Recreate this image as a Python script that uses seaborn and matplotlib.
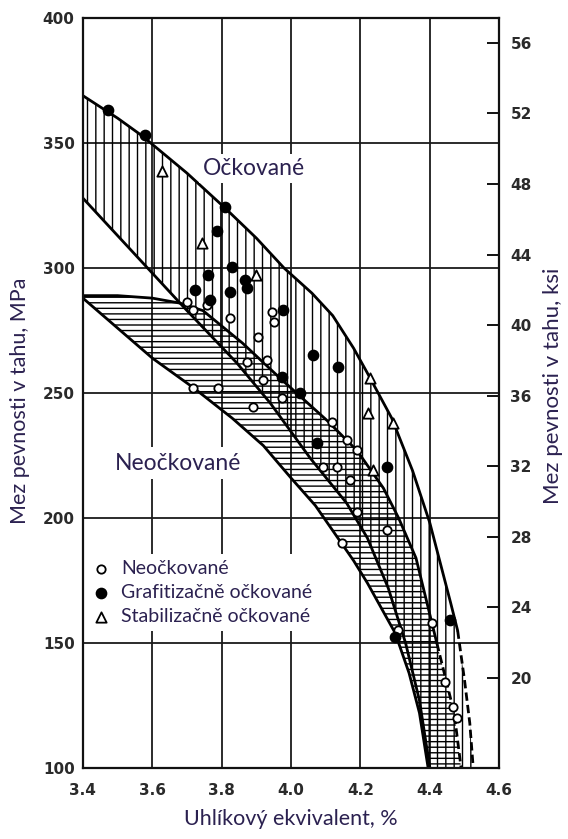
import matplotlib
matplotlib.use("Agg")
import matplotlib.pyplot as plt
import seaborn as sns
import numpy as np

# --- data (carbon equivalent %, tensile strength MPa) ---

# inoculated band (vertical hatch)
inoc_top_x = [3.40, 3.50, 3.57, 3.70, 3.81, 3.90, 3.98, 4.06, 4.12, 4.18, 4.22, 4.29, 4.35, 4.40, 4.43, 4.46, 4.48, 4.50, 4.515, 4.525]
inoc_top_y = [369, 360, 353, 338, 324, 312, 300, 290, 281, 268, 258, 240, 219, 198, 182, 166, 155, 135, 118, 100]
inoc_bot_x = [3.40, 3.50, 3.60, 3.70, 3.844, 3.94, 4.055, 4.16, 4.22, 4.28, 4.33, 4.37, 4.40]
inoc_bot_y = [328, 313, 298, 283, 262, 246, 224, 206, 192, 172, 150, 127, 100]

# uninoculated band (horizontal hatch)
plain_top_x = [3.40, 3.50, 3.60, 3.68, 3.746, 3.86, 3.968, 4.104, 4.19, 4.266, 4.31, 4.36, 4.42, 4.47, 4.49]
plain_top_y = [289, 289, 288, 286, 283, 270, 256, 239, 227, 212, 200, 184, 150, 122, 100]
plain_bot_x = [3.40, 3.50, 3.60, 3.72, 3.83, 3.92, 4.00, 4.07, 4.12, 4.18, 4.22, 4.26, 4.30, 4.34, 4.37, 4.395]
plain_bot_y = [288, 276, 264, 252, 240, 229, 216, 205, 195, 183, 174, 164, 154, 138, 122, 100]

# measured points
neo_x = [3.700, 3.717, 3.758, 3.824, 3.945, 3.951, 3.905, 3.873, 3.931, 3.919, 3.717, 3.789, 3.890, 3.974,
         4.118, 4.162, 4.190, 4.092, 4.133, 4.170, 4.190, 4.277, 4.147, 4.309, 4.407, 4.444, 4.467, 4.479]
neo_y = [286.4, 283.2, 285.2, 280.0, 282.4, 278.4, 272.4, 262.4, 263.2, 255.2, 252.0, 252.0, 244.4, 248.0,
         238.4, 231.2, 227.2, 220.4, 220.4, 215.2, 202.4, 195.2, 190.0, 155.2, 158.0, 134.4, 124.4, 120.0]
graf_x = [3.472, 3.579, 3.810, 3.787, 3.830, 3.761, 3.867, 3.824, 3.873, 3.723, 3.766, 3.977, 4.063, 4.136,
          3.974, 4.026, 4.075, 4.277, 4.459, 4.300]
graf_y = [363.2, 353.2, 324.4, 314.8, 300.4, 297.2, 295.2, 290.4, 292.0, 291.2, 287.2, 283.2, 265.2, 260.4,
          256.4, 250.0, 230.0, 220.4, 159.2, 152.4]
stab_x = [3.628, 3.743, 3.899, 4.228, 4.222, 4.294, 4.237]
stab_y = [338.8, 310.0, 297.2, 256.0, 242.0, 238.0, 219.2]

x_ticks = [3.4, 3.6, 3.8, 4.0, 4.2, 4.4, 4.6]
mpa_ticks = [100, 150, 200, 250, 300, 350, 400]
ksi_ticks = [20, 24, 28, 32, 36, 40, 44, 48, 52, 56]

label_color = "#2b2150"
txt_font = ["Lato", "DejaVu Sans"]
tick_font = ["Liberation Sans Narrow", "DejaVu Sans"]

sns.set_style("white")
plt.rcParams["font.family"] = txt_font
plt.rcParams["hatch.linewidth"] = 1.0

fig = plt.figure(figsize=(5.68, 8.39), dpi=100)
ax = fig.add_axes([0.146, 0.0846, 0.733, 0.8937])

# hatched bands, the overlap comes out cross-hatched
ax.fill(np.r_[inoc_top_x, inoc_bot_x[::-1]], np.r_[inoc_top_y, inoc_bot_y[::-1]],
        facecolor="none", edgecolor="black", hatch="||", linewidth=0, zorder=1)
ax.fill(np.r_[plain_top_x, plain_bot_x[::-1]], np.r_[plain_top_y, plain_bot_y[::-1]],
        facecolor="none", edgecolor="black", hatch="---", linewidth=0, zorder=1)

# band edges, dashed where the scan shows broken lines
for bx, by in [(inoc_top_x, inoc_top_y), (plain_top_x, plain_top_y)]:
    bx, by = np.array(bx), np.array(by)
    solid = by >= 150
    sns.lineplot(x=bx[solid], y=by[solid], sort=False, estimator=None, color="black", linewidth=2.0, ax=ax, zorder=2)
    dash = by <= 155
    sns.lineplot(x=bx[dash], y=by[dash], sort=False, estimator=None, color="black", linewidth=2.0,
                 linestyle=(0, (3, 1.5)), ax=ax, zorder=2)
for bx, by in [(inoc_bot_x, inoc_bot_y), (plain_bot_x, plain_bot_y)]:
    sns.lineplot(x=bx, y=by, sort=False, estimator=None, color="black", linewidth=2.0, ax=ax, zorder=2)

# points
sns.scatterplot(x=neo_x, y=neo_y, marker="o", s=36, color="white", edgecolor="black", linewidth=1.3,
                label="Neočkované", ax=ax, zorder=3)
sns.scatterplot(x=graf_x, y=graf_y, marker="o", s=55, color="black", edgecolor="black", linewidth=1.0,
                label="Grafitizačně očkované", ax=ax, zorder=3)
sns.scatterplot(x=stab_x, y=stab_y, marker="^", s=55, color="white", edgecolor="black", linewidth=1.3,
                label="Stabilizačně očkované", ax=ax, zorder=3)

ax.text(3.893, 340, "Očkované", ha="center", va="center", fontsize=16.5, color=label_color,
        bbox=dict(facecolor="white", edgecolor="none", pad=3), zorder=4)
ax.text(3.674, 222, "Neočkované", ha="center", va="center", fontsize=16.5, color=label_color,
        bbox=dict(facecolor="white", edgecolor="none", pad=4), zorder=4)

leg = ax.legend(loc="upper left", bbox_to_anchor=(0.0, 0.29), frameon=True, framealpha=1,
                edgecolor="none", facecolor="white", fontsize=14, labelcolor=label_color,
                handletextpad=0.55, labelspacing=0.35, borderpad=0.3, borderaxespad=0.2,
                handlelength=0.9, fancybox=False)
leg.set_zorder(5)

ax.set_xlim(3.4, 4.6)
ax.set_ylim(100, 400)
ax.set_xticks(x_ticks)
ax.set_xticklabels([f"{v:.1f}" for v in x_ticks], family=tick_font, fontsize=11, fontweight="bold", color="#2a2a2a")
ax.set_yticks(mpa_ticks)
ax.set_yticklabels([str(v) for v in mpa_ticks], family=tick_font, fontsize=11, fontweight="bold", color="#2a2a2a")
ax.tick_params(axis="both", length=0)
ax.tick_params(axis="x", pad=11)
ax.tick_params(axis="y", pad=6)
ax.grid(True, color="#1a1a1a", linewidth=1.3)
ax.set_axisbelow(True)
for sp in ax.spines.values():
    sp.set_color("#111111")
    sp.set_linewidth(1.6)

ax.set_xlabel("Uhlíkový ekvivalent, %", fontsize=15.5, color=label_color)
ax.xaxis.set_label_coords(0.5, -0.054)
ax.set_ylabel("Mez pevnosti v tahu, MPa", fontsize=15.5, color=label_color)
ax.yaxis.set_label_coords(-0.128, 0.49)

# secondary axis in ksi
ax2 = ax.twinx()
ax2.set_ylim(14.9, 57.4)
ax2.set_yticks(ksi_ticks)
ax2.set_yticklabels([str(v) for v in ksi_ticks], family=tick_font, fontsize=11, fontweight="bold", color="#2a2a2a")
ax2.tick_params(axis="y", direction="in", length=9, width=1.4, pad=8, color="#111111")
ax2.grid(False)
for sp in ax2.spines.values():
    sp.set_visible(False)
ax2.set_ylabel("Mez pevnosti v tahu, ksi", fontsize=16, color=label_color)
ax2.yaxis.set_label_coords(1.105, 0.51)

fig.savefig("out.png", dpi=100)
